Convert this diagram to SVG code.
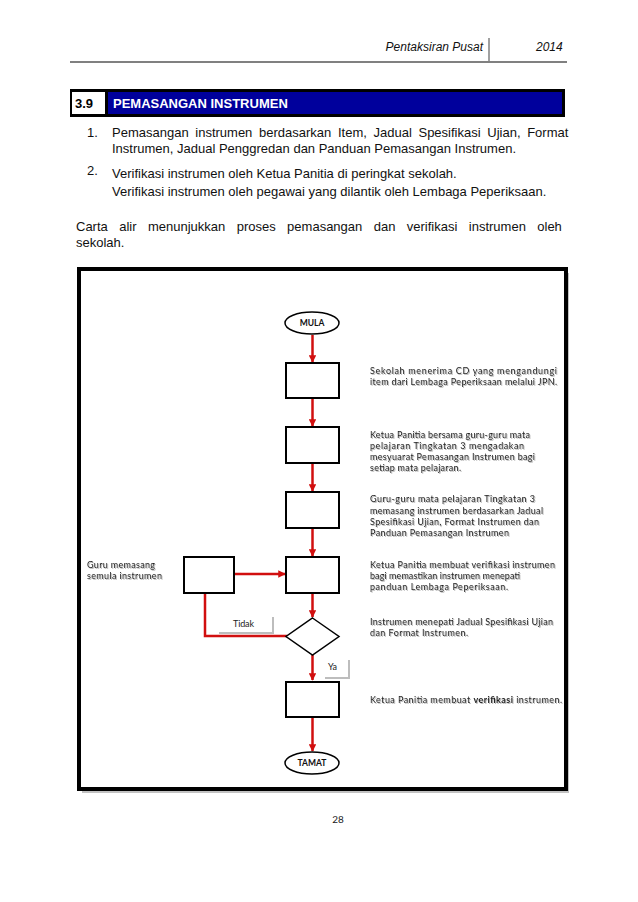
<svg xmlns="http://www.w3.org/2000/svg" width="638" height="902" viewBox="0 0 638 902">
<style>
.body{font-family:"Liberation Sans",Arial,sans-serif;font-size:13px;fill:#111}
.hdr{font-family:"Liberation Sans",Arial,sans-serif;font-size:12px;font-style:italic;fill:#111}
.fc{font-family:Lato,"Open Sans",sans-serif;font-size:9px;fill:#222}
.term{font-family:Lato,"Open Sans",sans-serif;font-size:8.5px;font-weight:bold;fill:#111}
.box{fill:#fff;stroke:#000;stroke-width:2}
.ell{fill:#fff;stroke:#000;stroke-width:1.5}
.edge{fill:none;stroke:#d10f0f;stroke-width:2.5}
</style>
<defs>
<marker id="ah" viewBox="0 0 10 10" refX="9" refY="5" markerWidth="3" markerHeight="3" orient="auto" markerUnits="strokeWidth">
<path d="M0,0 L10,5 L0,10 z" fill="#d10f0f"/>
</marker>
<filter id="ts" x="-5%" y="-20%" width="110%" height="150%">
<feDropShadow dx="1" dy="1" stdDeviation="0.6" flood-color="#888" flood-opacity="0.6"/>
</filter>
</defs>
<rect width="638" height="902" fill="#fff"/>

<!-- page header -->
<g id="page-header">
<text class="hdr" x="483" y="51" text-anchor="end">Pentaksiran Pusat</text>
<line x1="489" y1="38" x2="489" y2="63" stroke="#808080" stroke-width="1.5"/>
<text class="hdr" x="536" y="51">2014</text>
<line x1="70" y1="62" x2="567" y2="62" stroke="#808080" stroke-width="2"/>
</g>

<!-- section title bar -->
<g id="section-title">
<rect x="70" y="89" width="495" height="28" fill="#000"/>
<rect x="72" y="92" width="33" height="22" fill="#fff"/>
<rect x="108" y="92" width="454" height="22" fill="#00009c"/>
<text x="75" y="108" font-family="Liberation Sans,Arial,sans-serif" font-size="13" font-weight="bold" fill="#000">3.9</text>
<text x="113" y="108" font-family="Liberation Sans,Arial,sans-serif" font-size="13" font-weight="bold" fill="#fff">PEMASANGAN INSTRUMEN</text>
</g>

<!-- numbered list -->
<g id="list">
<text class="body" x="87" y="137">1.</text>
<text class="body" x="112" y="137" word-spacing="3.05">Pemasangan instrumen berdasarkan Item, Jadual Spesifikasi Ujian, Format</text>
<text class="body" x="112" y="153">Instrumen, Jadual Penggredan dan Panduan Pemasangan Instrumen.</text>
<text class="body" x="87" y="175">2.</text>
<text class="body" x="112" y="178">Verifikasi instrumen oleh Ketua Panitia di peringkat sekolah.</text>
<text class="body" x="112" y="196">Verifikasi instrumen oleh pegawai yang dilantik oleh Lembaga Peperiksaan.</text>
<text class="body" x="76" y="231" word-spacing="7.8">Carta alir menunjukkan proses pemasangan dan verifikasi instrumen oleh</text>
<text class="body" x="76" y="247">sekolah.</text>
</g>

<!-- frame -->
<g id="frame">
<rect x="82" y="273" width="487" height="520" fill="#9a9a9a" opacity="0.6"/>
<rect x="79" y="269" width="487" height="520" fill="#fff" stroke="#000" stroke-width="4"/>
</g>

<!-- connectors -->
<g id="connectors">
<line class="edge" x1="312.5" y1="335" x2="312.5" y2="362" marker-end="url(#ah)"/>
<line class="edge" x1="312.5" y1="398" x2="312.5" y2="426" marker-end="url(#ah)"/>
<line class="edge" x1="312.5" y1="463" x2="312.5" y2="491" marker-end="url(#ah)"/>
<line class="edge" x1="312.5" y1="528" x2="312.5" y2="556" marker-end="url(#ah)"/>
<line class="edge" x1="312.5" y1="593" x2="312.5" y2="617" marker-end="url(#ah)"/>
<line class="edge" x1="312.5" y1="655" x2="312.5" y2="680" marker-end="url(#ah)"/>
<line class="edge" x1="312.5" y1="717" x2="312.5" y2="751" marker-end="url(#ah)"/>
<line class="edge" x1="234" y1="574" x2="285" y2="574" marker-end="url(#ah)"/>
<polyline class="edge" points="287,636 205,636 205,593"/>
</g>

<!-- nodes -->
<g id="mula">
<ellipse class="ell" cx="312" cy="323" rx="27" ry="11"/>
<text class="term" x="312" y="326" text-anchor="middle">MULA</text>
</g>
<g id="step1">
<rect class="box" x="286" y="363" width="53" height="35"/>
<text class="fc" filter="url(#ts)" x="370" y="374" textLength="187" lengthAdjust="spacing">Sekolah menerima CD  yang mengandungi</text>
<text class="fc" filter="url(#ts)" x="370" y="385" textLength="187" lengthAdjust="spacing">item  dari Lembaga Peperiksaan melalui JPN.</text>
</g>
<g id="step2">
<rect class="box" x="286" y="427" width="53" height="36"/>
<text class="fc" filter="url(#ts)" x="370" y="438" textLength="160" lengthAdjust="spacing">Ketua Panitia bersama guru-guru mata</text>
<text class="fc" filter="url(#ts)" x="370" y="449" textLength="154" lengthAdjust="spacing">pelajaran Tingkatan 3 mengadakan</text>
<text class="fc" filter="url(#ts)" x="370" y="460" textLength="165" lengthAdjust="spacing">mesyuarat Pemasangan Instrumen bagi</text>
<text class="fc" filter="url(#ts)" x="370" y="471" textLength="91" lengthAdjust="spacing">setiap mata pelajaran.</text>
</g>
<g id="step3">
<rect class="box" x="286" y="492" width="53" height="36"/>
<text class="fc" filter="url(#ts)" x="370" y="502" textLength="165" lengthAdjust="spacing">Guru-guru mata pelajaran Tingkatan 3</text>
<text class="fc" filter="url(#ts)" x="370" y="514" textLength="173" lengthAdjust="spacing">memasang instrumen berdasarkan Jadual</text>
<text class="fc" filter="url(#ts)" x="370" y="525" textLength="169" lengthAdjust="spacing">Spesifikasi Ujian, Format Instrumen dan</text>
<text class="fc" filter="url(#ts)" x="370" y="536" textLength="139" lengthAdjust="spacing">Panduan Pemasangan Instrumen</text>
</g>
<g id="step4">
<rect class="box" x="286" y="557" width="53" height="36"/>
<text class="fc" filter="url(#ts)" x="370" y="568" textLength="185" lengthAdjust="spacing">Ketua Panitia membuat verifikasi instrumen</text>
<text class="fc" filter="url(#ts)" x="370" y="579" textLength="150" lengthAdjust="spacing">bagi memastikan instrumen menepati</text>
<text class="fc" filter="url(#ts)" x="370" y="590" textLength="138" lengthAdjust="spacing">panduan Lembaga Peperiksaan.</text>
</g>
<g id="rework">
<rect class="box" x="184" y="557" width="50" height="36"/>
<text class="fc" filter="url(#ts)" x="87" y="568" textLength="68" lengthAdjust="spacing">Guru memasang</text>
<text class="fc" filter="url(#ts)" x="87" y="579" textLength="75" lengthAdjust="spacing">semula instrumen</text>
</g>
<g id="decision">
<polygon points="312.5,618 339,636.5 312.5,655 286,636.5" fill="#fff" stroke="#000" stroke-width="1.5"/>
<text class="fc" filter="url(#ts)" x="370" y="625" textLength="183" lengthAdjust="spacing">Instrumen menepati Jadual Spesifikasi Ujian</text>
<text class="fc" filter="url(#ts)" x="370" y="636" textLength="98" lengthAdjust="spacing">dan  Format Instrumen.</text>
</g>
<g id="label-tidak">
<rect x="219" y="617" width="55" height="17" fill="#bdbdbd"/>
<rect x="217" y="615" width="55" height="17" fill="#fff"/>
<text class="fc" x="233" y="627" textLength="21" lengthAdjust="spacing">Tidak</text>
</g>
<g id="label-ya">
<rect x="325" y="660" width="25" height="19" fill="#bdbdbd"/>
<rect x="323" y="658" width="25" height="19" fill="#fff"/>
<text class="fc" x="328" y="670">Ya</text>
</g>
<g id="step5">
<rect class="box" x="286" y="682" width="53" height="35"/>
<text class="fc" filter="url(#ts)" x="370" y="703" textLength="192" lengthAdjust="spacing">Ketua Panitia membuat <tspan font-weight="bold">verifikasi</tspan> instrumen.</text>
</g>
<g id="tamat">
<ellipse class="ell" cx="312" cy="763" rx="27" ry="11"/>
<text class="term" x="312" y="766" text-anchor="middle">TAMAT</text>
</g>

<text x="338" y="823" font-family="Lato,'Open Sans',sans-serif" font-size="10" fill="#222" text-anchor="middle">28</text>
</svg>
